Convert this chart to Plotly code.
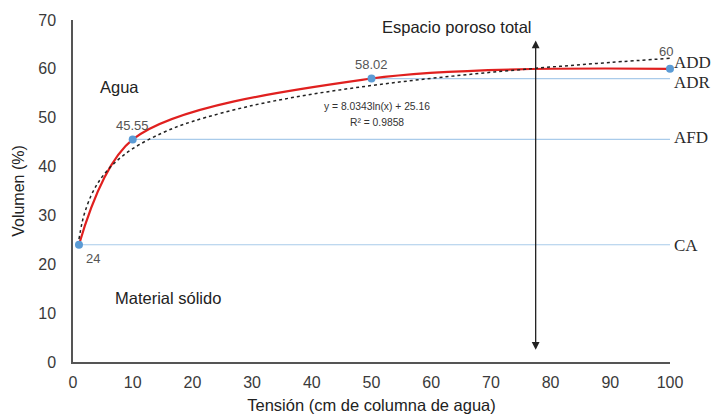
import numpy as np
import plotly.graph_objects as go

# Data
tension = [1, 10, 50, 100]
volumen = [24, 45.55, 58.02, 60]
point_labels = ["24", "45.55", "58.02", "60"]

# Logarithmic trendline coefficients shown on the chart
trend_slope = 8.0343
trend_intercept = 25.16
trend_x = [1, 1.5, 2, 3, 4, 5, 7, 10, 15, 20, 30, 40, 50, 60, 70, 80, 90, 100]

# Horizontal reference levels
level_names = ["CA", "AFD", "ADR", "ADD"]
level_values = [24, 45.55, 58.02, 60]
level_start = [1, 10, 50, 100]

x_ticks = [0, 10, 20, 30, 40, 50, 60, 70, 80, 90, 100]
y_ticks = [0, 10, 20, 30, 40, 50, 60, 70]

trend_y = [trend_slope * np.log(x) + trend_intercept for x in trend_x]

fig = go.Figure()

blue_line = "#A9CBEA"
for name, val, x0 in zip(level_names, level_values, level_start):
    if name == "ADD":
        continue
    fig.add_trace(go.Scatter(x=[x0, 100], y=[val, val], mode="lines",
                             line=dict(color=blue_line, width=1.2),
                             hoverinfo="skip", showlegend=False))

fig.add_trace(go.Scatter(x=tension, y=volumen, mode="lines",
                         line=dict(color="#E0201F", width=2.2, shape="spline", smoothing=0.9),
                         showlegend=False))
fig.add_trace(go.Scatter(x=trend_x, y=trend_y, mode="lines",
                         line=dict(color="#222222", width=1.5, dash="dot", shape="spline"),
                         showlegend=False))
fig.add_trace(go.Scatter(x=tension, y=volumen, mode="markers",
                         marker=dict(color="#5B9BD5", size=8),
                         showlegend=False, cliponaxis=False))

annotations = []
# Point labels
offsets = [(14, -14), (0, 14), (0, 14), (-4, 17)]
for x, y, t, (dx, dy) in zip(tension, volumen, point_labels, offsets):
    annotations.append(dict(x=x, y=y, text=t, showarrow=False, xshift=dx, yshift=dy,
                            font=dict(family="Liberation Sans, Arial", size=13, color="#555555")))

# Right side labels
label_shift = {"ADD": 6, "ADR": -4, "AFD": 2, "CA": -1}
for name, val in zip(level_names, level_values):
    annotations.append(dict(x=100, y=val, text=name, showarrow=False, xanchor="left",
                            xshift=2, yshift=label_shift[name],
                            font=dict(family="Liberation Serif, Times New Roman", size=17, color="#2a2a2a")))

# Region texts
annotations += [
    dict(x=64.3, y=68.6, text="Espacio poroso total", showarrow=False,
         font=dict(family="Liberation Sans, Arial", size=16.5, color="#222222")),
    dict(x=4.2, y=56.3, text="Agua", showarrow=False, xanchor="left",
         font=dict(family="Liberation Sans, Arial", size=16.5, color="#222222")),
    dict(x=6.7, y=13.1, text="Material sólido", showarrow=False, xanchor="left",
         font=dict(family="Liberation Sans, Arial", size=16.5, color="#222222")),
    dict(x=50.9, y=52.2, text="y = 8.0343ln(x) + 25.16", showarrow=False,
         font=dict(family="Liberation Sans, Arial", size=10.3, color="#333333")),
    dict(x=50.9, y=49.1, text="R² = 0.9858", showarrow=False,
         font=dict(family="Liberation Sans, Arial", size=10.3, color="#333333")),
    dict(x=77.5, y=65.8, ax=77.5, ay=2.2, axref="x", ayref="y", xref="x", yref="y",
         text="", showarrow=True, arrowhead=2, arrowside="end+start", arrowsize=1.2,
         arrowwidth=1.3, arrowcolor="#222222"),
]

fig.update_layout(
    width=712, height=414,
    margin=dict(l=73, r=42, t=20, b=52, autoexpand=False),
    plot_bgcolor="white", paper_bgcolor="white",
    font=dict(family="Liberation Sans, Arial", size=16, color="#333333"),
    annotations=annotations,
    xaxis=dict(range=[0, 100], tickvals=x_ticks, showgrid=False, zeroline=False,
               showline=True, linecolor="#555555", linewidth=1.5,
               ticks="outside", ticklen=5, tickcolor="rgba(0,0,0,0)",
               automargin=False,
               title=dict(text="Tensión (cm de columna de agua)", standoff=9,
                          font=dict(size=16.5, color="#222222")),
               tickfont=dict(size=16, color="#3a3a3a")),
    yaxis=dict(range=[0, 70], tickvals=y_ticks, showgrid=False, zeroline=False,
               showline=True, linecolor="#555555", linewidth=1.5,
               ticks="outside", ticklen=12, tickcolor="rgba(0,0,0,0)",
               automargin=False,
               title=dict(text="Volumen (%)", standoff=10,
                          font=dict(size=16, color="#222222")),
               tickfont=dict(size=16, color="#3a3a3a")),
)

fig.write_html("out.html", config={"displayModeBar": False},
               post_script="document.body.style.margin='0';document.body.style.overflow='hidden';")
